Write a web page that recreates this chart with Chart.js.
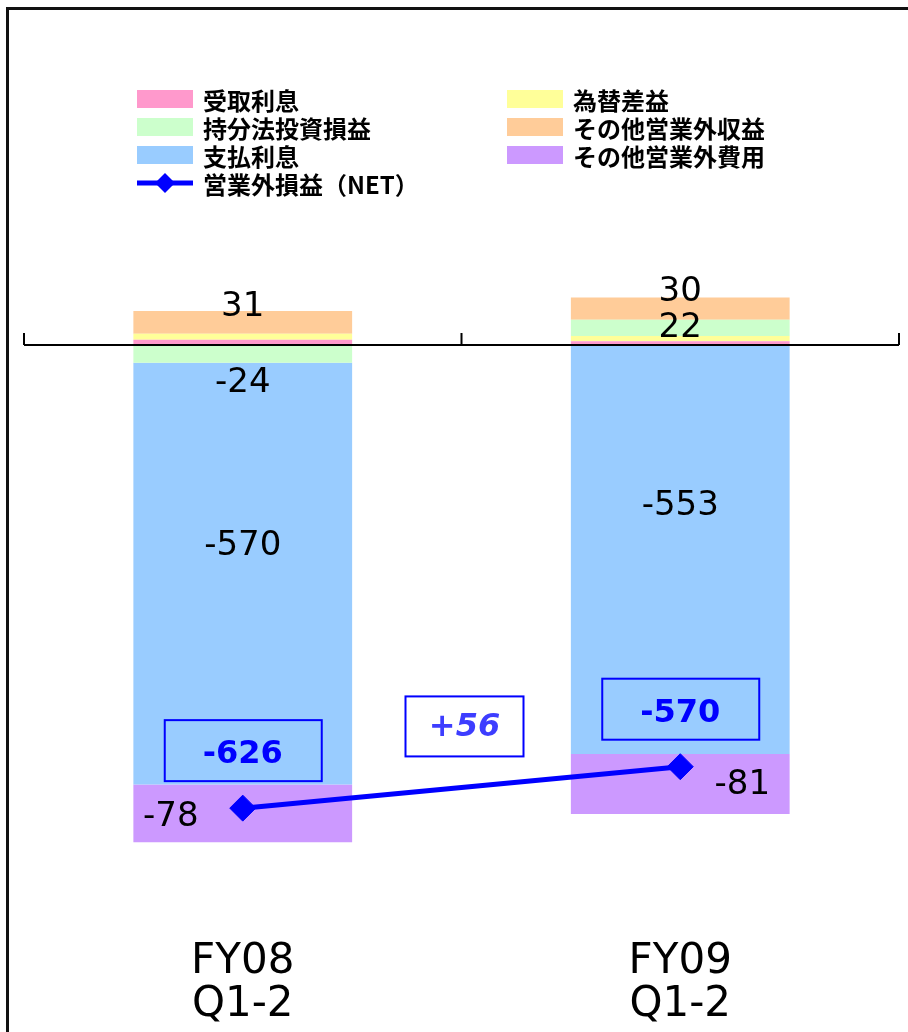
<!DOCTYPE html>
<html lang="ja">
<head>
  <meta charset="UTF-8">
  <title>営業外損益</title>
  <script src="https://cdn.jsdelivr.net/npm/chart.js"></script>
  <style>
    body { margin: 0; background: #fff; }
    #wrap { position: relative; width: 908px; height: 1032px; overflow: hidden; }
    #frame { position: absolute; left: 6px; top: 7px; width: 1000px; height: 1100px;
             border-top: 3px solid #111; border-left: 3px solid #111; }
    #chart { position: absolute; left: 0; top: 0; }
    #legend { position: absolute; left: 137px; top: 85px; display: grid;
              grid-template-columns: 370px auto;
              font-family: "Noto Sans CJK JP", sans-serif; font-weight: 700; font-size: 24px; color: #000; }
    .item { display: flex; align-items: center; height: 28px; white-space: nowrap; }
    .swatch { width: 56px; height: 18px; margin-right: 10px; flex: none; }
    .item svg { margin-right: 10px; flex: none; }
  </style>
</head>
<body>
<div id="wrap">
  <div id="frame"></div>
  <canvas id="chart" width="908" height="1032"></canvas>
  <div id="legend"></div>
</div>

<script>
  // categories and series values (億円)
  const categories = [['FY08', 'Q1-2'], ['FY09', 'Q1-2']];
  const interestIncome  = [7, 5];        // 受取利息
  const fxGain          = [8, 7];        // 為替差益
  const equityMethod    = [-24, 22];     // 持分法投資損益
  const otherIncome     = [31, 30];      // その他営業外収益
  const interestExpense = [-570, -553];  // 支払利息
  const otherExpense    = [-78, -81];    // その他営業外費用
  const netResult       = [-626, -570];  // 営業外損益（NET）
  const yRange = [-790, 400];

  const barSeries = [
    { label: '受取利息',         data: interestIncome,  color: '#ff99cc', showValue: false },
    { label: '為替差益',         data: fxGain,          color: '#ffff99', showValue: false },
    { label: '持分法投資損益',   data: equityMethod,    color: '#ccffcc', showValue: true },
    { label: 'その他営業外収益', data: otherIncome,     color: '#ffcc99', showValue: true },
    { label: '支払利息',         data: interestExpense, color: '#99ccff', showValue: true },
    { label: 'その他営業外費用', data: otherExpense,    color: '#cc99ff', showValue: true }
  ];
  const netName = '営業外損益（NET）';

  // pixel nudges for the value labels, per series then per category
  const labelShift = {
    '持分法投資損益':   [[0, 29], [0, 0]],
    'その他営業外収益': [[0, -15], [0, -17]],
    '支払利息':         [[0, -27], [0, -43]],
    'その他営業外費用': [[-72, 4], [62, 1]]
  };

  const numFont = '"DejaVu Sans", sans-serif';

  const zeroAxis = {
    id: 'zeroAxis',
    afterDatasetsDraw(chart) {
      const { ctx, chartArea, scales: { x, y } } = chart;
      const y0 = y.getPixelForValue(0);
      const step = x.getPixelForValue(1) - x.getPixelForValue(0);
      const marks = [x.getPixelForValue(0) - step / 2, x.getPixelForValue(0) + step / 2, x.getPixelForValue(1) + step / 2];
      ctx.save();
      ctx.strokeStyle = '#000';
      ctx.lineWidth = 2;
      ctx.beginPath();
      ctx.moveTo(chartArea.left, y0);
      ctx.lineTo(chartArea.right, y0);
      marks.forEach(m => { ctx.moveTo(m, y0); ctx.lineTo(m, y0 - 12); });
      ctx.stroke();
      ctx.restore();
    }
  };

  const valueLabels = {
    id: 'valueLabels',
    afterDraw(chart) {
      const ctx = chart.ctx;
      ctx.save();
      ctx.textAlign = 'center';
      ctx.textBaseline = 'middle';

      // segment values
      ctx.fillStyle = '#000';
      ctx.font = '34px ' + numFont;
      chart.data.datasets.forEach((ds, di) => {
        if (!ds.showValue) return;
        const meta = chart.getDatasetMeta(di);
        meta.data.forEach((bar, i) => {
          const shift = labelShift[ds.label][i];
          const cy = (bar.y + bar.base) / 2;
          ctx.fillText(String(ds.data[i]), bar.x + shift[0], cy + shift[1]);
        });
      });

      // net result boxes
      const netIdx = chart.data.datasets.findIndex(ds => ds.type === 'line');
      const pts = chart.getDatasetMeta(netIdx).data;
      ctx.lineWidth = 2;
      ctx.strokeStyle = '#0000ff';
      ctx.fillStyle = '#0000ff';
      ctx.font = 'bold 32px ' + numFont;
      pts.forEach((pt, i) => {
        const cx = pt.x, cy = pt.y - 58;
        ctx.strokeRect(cx - 78, cy - 30, 157, 61);
        ctx.fillText(String(netResult[i]), cx, cy + 5);
      });

      // change between the two periods
      const diff = netResult[1] - netResult[0];
      const dx = (pts[0].x + pts[1].x) / 2 + 3;
      const dy = (pts[0].y + pts[1].y) / 2 - 61;
      ctx.fillStyle = '#fff';
      ctx.fillRect(dx - 59, dy - 30, 118, 60);
      ctx.strokeRect(dx - 59, dy - 30, 118, 60);
      ctx.fillStyle = '#3d3dff';
      ctx.font = 'italic bold 32px ' + numFont;
      ctx.fillText((diff > 0 ? '+' : '') + diff, dx, dy + 1);
      ctx.restore();
    }
  };

  const datasets = barSeries.map(s => ({
    type: 'bar',
    label: s.label,
    data: s.data,
    backgroundColor: s.color,
    borderWidth: 0,
    stack: 'pl',
    showValue: s.showValue,
    categoryPercentage: 1,
    barPercentage: 0.5
  }));
  datasets.push({
    type: 'line',
    label: netName,
    data: netResult,
    stack: 'net',
    order: -1,
    borderColor: '#0000ff',
    borderWidth: 5,
    tension: 0,
    pointStyle: 'rectRot',
    pointRadius: 13,
    pointBackgroundColor: '#0000ff',
    pointBorderColor: '#0000ff',
    pointBorderWidth: 1
  });

  const chart = new Chart(document.getElementById('chart'), {
    data: { labels: categories, datasets },
    options: {
      responsive: false,
      animation: false,
      layout: { autoPadding: false, padding: { left: 24, right: 9, top: 49, bottom: 2 } },
      plugins: { legend: { display: false }, tooltip: { enabled: false } },
      scales: {
        x: {
          stacked: true,
          grid: { display: false },
          border: { display: false },
          ticks: { color: '#000', padding: 3, font: { family: 'DejaVu Sans', size: 42, lineHeight: 1.03 } }
        },
        y: {
          display: false,
          stacked: true,
          min: yRange[0],
          max: yRange[1]
        }
      }
    },
    plugins: [zeroAxis, valueLabels]
  });

  // two-column legend in dataset order
  const legend = document.getElementById('legend');
  chart.data.datasets.forEach(ds => {
    const item = document.createElement('div');
    item.className = 'item';
    if (ds.type === 'line') {
      item.innerHTML = `<svg width="56" height="28"><line x1="0" y1="14" x2="56" y2="14" stroke="${ds.borderColor}" stroke-width="5"/>` +
        `<polygon points="28,4 38,14 28,24 18,14" fill="${ds.borderColor}"/></svg><span>${ds.label}</span>`;
    } else {
      item.innerHTML = `<div class="swatch" style="background:${ds.backgroundColor}"></div><span>${ds.label}</span>`;
    }
    legend.appendChild(item);
  });
</script>
</body>
</html>
